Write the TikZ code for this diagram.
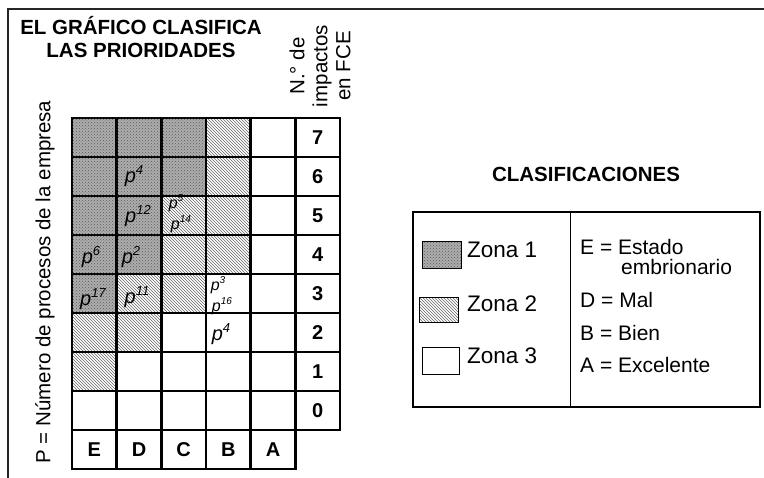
\documentclass[tikz,border=0pt]{standalone}
\usepackage{fontspec}
\setmainfont{Liberation Sans}
\usetikzlibrary{patterns}
\newcommand{\pexp}[2][13]{p\raisebox{0.42em}{\fontsize{#1}{#1}\selectfont #2}}
\begin{document}
\begin{tikzpicture}[x=1pt,y=-1pt,
  cell/.style={draw, line width=2.6pt, minimum width=44.667pt, minimum height=39pt,
    inner sep=0pt, outer sep=0pt, font=\fontsize{20}{22}\selectfont\bfseries},
  z1/.style={fill=black!32, postaction={pattern=crosshatch dots, pattern color=black!65}},
  z2/.style={pattern=north west lines, pattern color=black!60},
  z3/.style={fill=white},
  lab/.style={font=\fontsize{20}{21}\selectfont\itshape, inner sep=0pt},
  slab/.style={font=\fontsize{16}{17}\selectfont\itshape, inner sep=0pt},
  txt/.style={font=\fontsize{21}{23}\selectfont, inner sep=0pt},
  swatch/.style={draw, line width=1pt, inner sep=0pt, outer sep=0pt},
]
\fill[white] (0,0) rectangle (764,478);
\useasboundingbox (0,0) rectangle (764,478);
% frame
\draw[line width=1.5pt, black!85] (8,478) -- (8,9) -- (764,9);
% title
\node[font=\fontsize{20.5}{23}\selectfont\bfseries, anchor=base, inner sep=0pt] (t1) at (141,35) {EL GRÁFICO CLASIFICA};
\node[font=\fontsize{20.5}{23}\selectfont\bfseries, anchor=base, inner sep=0pt] (t2) at (141,58) {LAS PRIORIDADES};
% header
\node[rotate=90, align=center, font=\fontsize{20.5}{23}\selectfont, inner sep=0pt] (hdr) at (320,66) {N.° de\\impactos\\en FCE};
% left label
\node[rotate=90, font=\fontsize{20.5}{23}\selectfont, inner sep=0pt] (ylab) at (45,282) {P = Número de procesos de la empresa};
% grid
\foreach \r/\zs in {7/{1,1,1,2,3},6/{1,1,1,2,3},5/{1,1,2,2,3},4/{1,1,2,2,3},3/{1,2,2,3,3},2/{2,2,3,3,3},1/{2,3,3,3,3},0/{3,3,3,3,3}}{
  \foreach \z [count=\c] in \zs {
    \node[cell, z\z] (c\r-\c) at ({72+44.667*(\c-0.5)},{118+39*(7-\r)+19.5}) {};
  }
  \node[cell] (n\r) at (317.667,{118+39*(7-\r)+19.5}) {\r};
}
\foreach \l [count=\c] in {E,D,C,B,A}{
  \node[cell] (l\l) at ({72+44.667*(\c-0.5)},449.5) {\l};
}
% process labels
\node[lab] (a1) at (134,176) {\pexp{4}};
\node[lab] (a2) at (138,216) {\pexp{12}};
\node[slab] (a3) at (176,203) {\pexp[10]{5}};
\node[slab] (a4) at (181,224) {\pexp[10]{14}};
\node[lab] (a5) at (91,257) {\pexp{6}};
\node[lab] (a6) at (131,257) {\pexp{2}};
\node[lab] (a7) at (93,299) {\pexp{17}};
\node[lab] (a8) at (137,297) {\pexp{11}};
\node[slab] (a9) at (218,285) {\pexp[10]{3}};
\node[slab] (a10) at (222,306) {\pexp[10]{16}};
\node[lab] (a11) at (221,334) {\pexp{4}};
% legend
\node[font=\fontsize{20.5}{23}\selectfont\bfseries, anchor=base, inner sep=0pt] (clas) at (586,182) {CLASIFICACIONES};
\node[draw, line width=2.5pt, minimum width=347pt, minimum height=195pt, inner sep=0pt, outer sep=0pt] (legend) at (586.5,309.5) {};
\coordinate (dv) at (570,212);
\draw[line width=1pt] (dv) -- (dv |- legend.south);
\node[swatch, z1, minimum width=39pt, minimum height=27pt] (s1) at (441.5,255.5) {};
\node[swatch, z2, minimum width=39pt, minimum height=25pt] (s2) at (438.5,310.5) {};
\node[swatch, fill=white, minimum width=37pt, minimum height=27pt] (s3) at (440.5,361.5) {};
\node[txt, font=\fontsize{22.5}{24}\selectfont, anchor=base west] (zn1) at (467,258) {Zona 1};
\node[txt, font=\fontsize{22.5}{24}\selectfont, anchor=base west] (zn2) at (467,312) {Zona 2};
\node[txt, font=\fontsize{22.5}{24}\selectfont, anchor=base west] (zn3) at (467,364) {Zona 3};
\node[txt, anchor=base west] (k1) at (580,255) {E = Estado};
\node[txt, anchor=base west] (k2) at (621,275) {embrionario};
\node[txt, anchor=base west] (k3) at (580,308) {D = Mal};
\node[txt, anchor=base west] (k4) at (580,341) {B = Bien};
\node[txt, anchor=base west] (k5) at (580,373) {A = Excelente};
\end{tikzpicture}
\end{document}
